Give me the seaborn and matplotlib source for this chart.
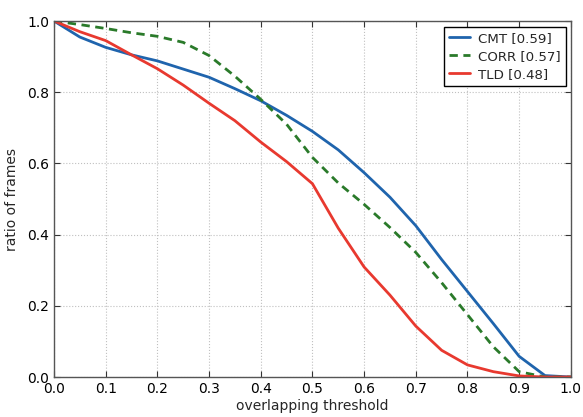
import numpy as np
import pandas as pd
import matplotlib
matplotlib.use("Agg")
import matplotlib.pyplot as plt
import seaborn as sns

thresholds = [0.0, 0.05, 0.1, 0.15, 0.2, 0.25, 0.3, 0.35, 0.4, 0.45, 0.5,
              0.55, 0.6, 0.65, 0.7, 0.75, 0.8, 0.85, 0.9, 0.95, 1.0]
cmt = [1.0, 0.955, 0.926, 0.905, 0.888, 0.865, 0.842, 0.81, 0.776, 0.735, 0.69,
       0.638, 0.574, 0.505, 0.425, 0.33, 0.24, 0.15, 0.058, 0.004, 0.0]
corr = [1.0, 0.99, 0.979, 0.967, 0.957, 0.94, 0.903, 0.845, 0.78, 0.71, 0.617,
        0.545, 0.485, 0.42, 0.35, 0.265, 0.175, 0.085, 0.015, 0.0, 0.0]
tld = [1.0, 0.97, 0.945, 0.905, 0.866, 0.82, 0.769, 0.72, 0.66, 0.605, 0.543,
       0.418, 0.309, 0.23, 0.143, 0.075, 0.034, 0.015, 0.003, 0.0, 0.0]
labels = ["CMT [0.59]", "CORR [0.57]", "TLD [0.48]"]
colors = ["#1f64ad", "#2a7a2a", "#e8392f"]

df = pd.DataFrame({
    "x": thresholds * 3,
    "y": cmt + corr + tld,
    "method": [labels[0]] * len(thresholds) + [labels[1]] * len(thresholds) + [labels[2]] * len(thresholds),
})

sns.set_style("ticks")
plt.rcParams["font.family"] = ["DejaVu Sans"]

fig = plt.figure(figsize=(5.83, 4.17), dpi=100)
ax = fig.add_axes([0.0926, 0.0959, 0.8866, 0.8537])

sns.lineplot(data=df, x="x", y="y", hue="method", style="method",
             palette=dict(zip(labels, colors)),
             dashes={labels[0]: "", labels[1]: (3, 2), labels[2]: ""},
             linewidth=2, ax=ax, legend=True)

ax.set_xlim(0, 1)
ax.set_ylim(0, 1)
ax.set_xticks(np.arange(0, 1.01, 0.1))
ax.set_yticks(np.arange(0, 1.01, 0.2))
ax.xaxis.set_major_formatter(matplotlib.ticker.FormatStrFormatter("%.1f"))
ax.yaxis.set_major_formatter(matplotlib.ticker.FormatStrFormatter("%.1f"))
ax.grid(True, linestyle=":", color="#c0c0c0", linewidth=0.8)
ax.tick_params(direction="in", length=4, labelsize=10, top=True, right=True, colors="#333333", labelcolor="black")
for s in ax.spines.values():
    s.set_color("#555555")
    s.set_linewidth(1.0)
ax.set_xlabel("overlapping threshold", fontsize=10, labelpad=2)
ax.set_ylabel("ratio of frames", fontsize=10, labelpad=6)

leg = ax.legend(loc="upper right", fontsize=9.6, fancybox=False, framealpha=1,
                edgecolor="black", handlelength=1.6, handletextpad=0.6,
                borderpad=0.35, labelspacing=0.38, borderaxespad=0,
                bbox_to_anchor=(0.990, 0.983))
leg.get_frame().set_linewidth(1.0)

fig.savefig("out.png", dpi=100)
